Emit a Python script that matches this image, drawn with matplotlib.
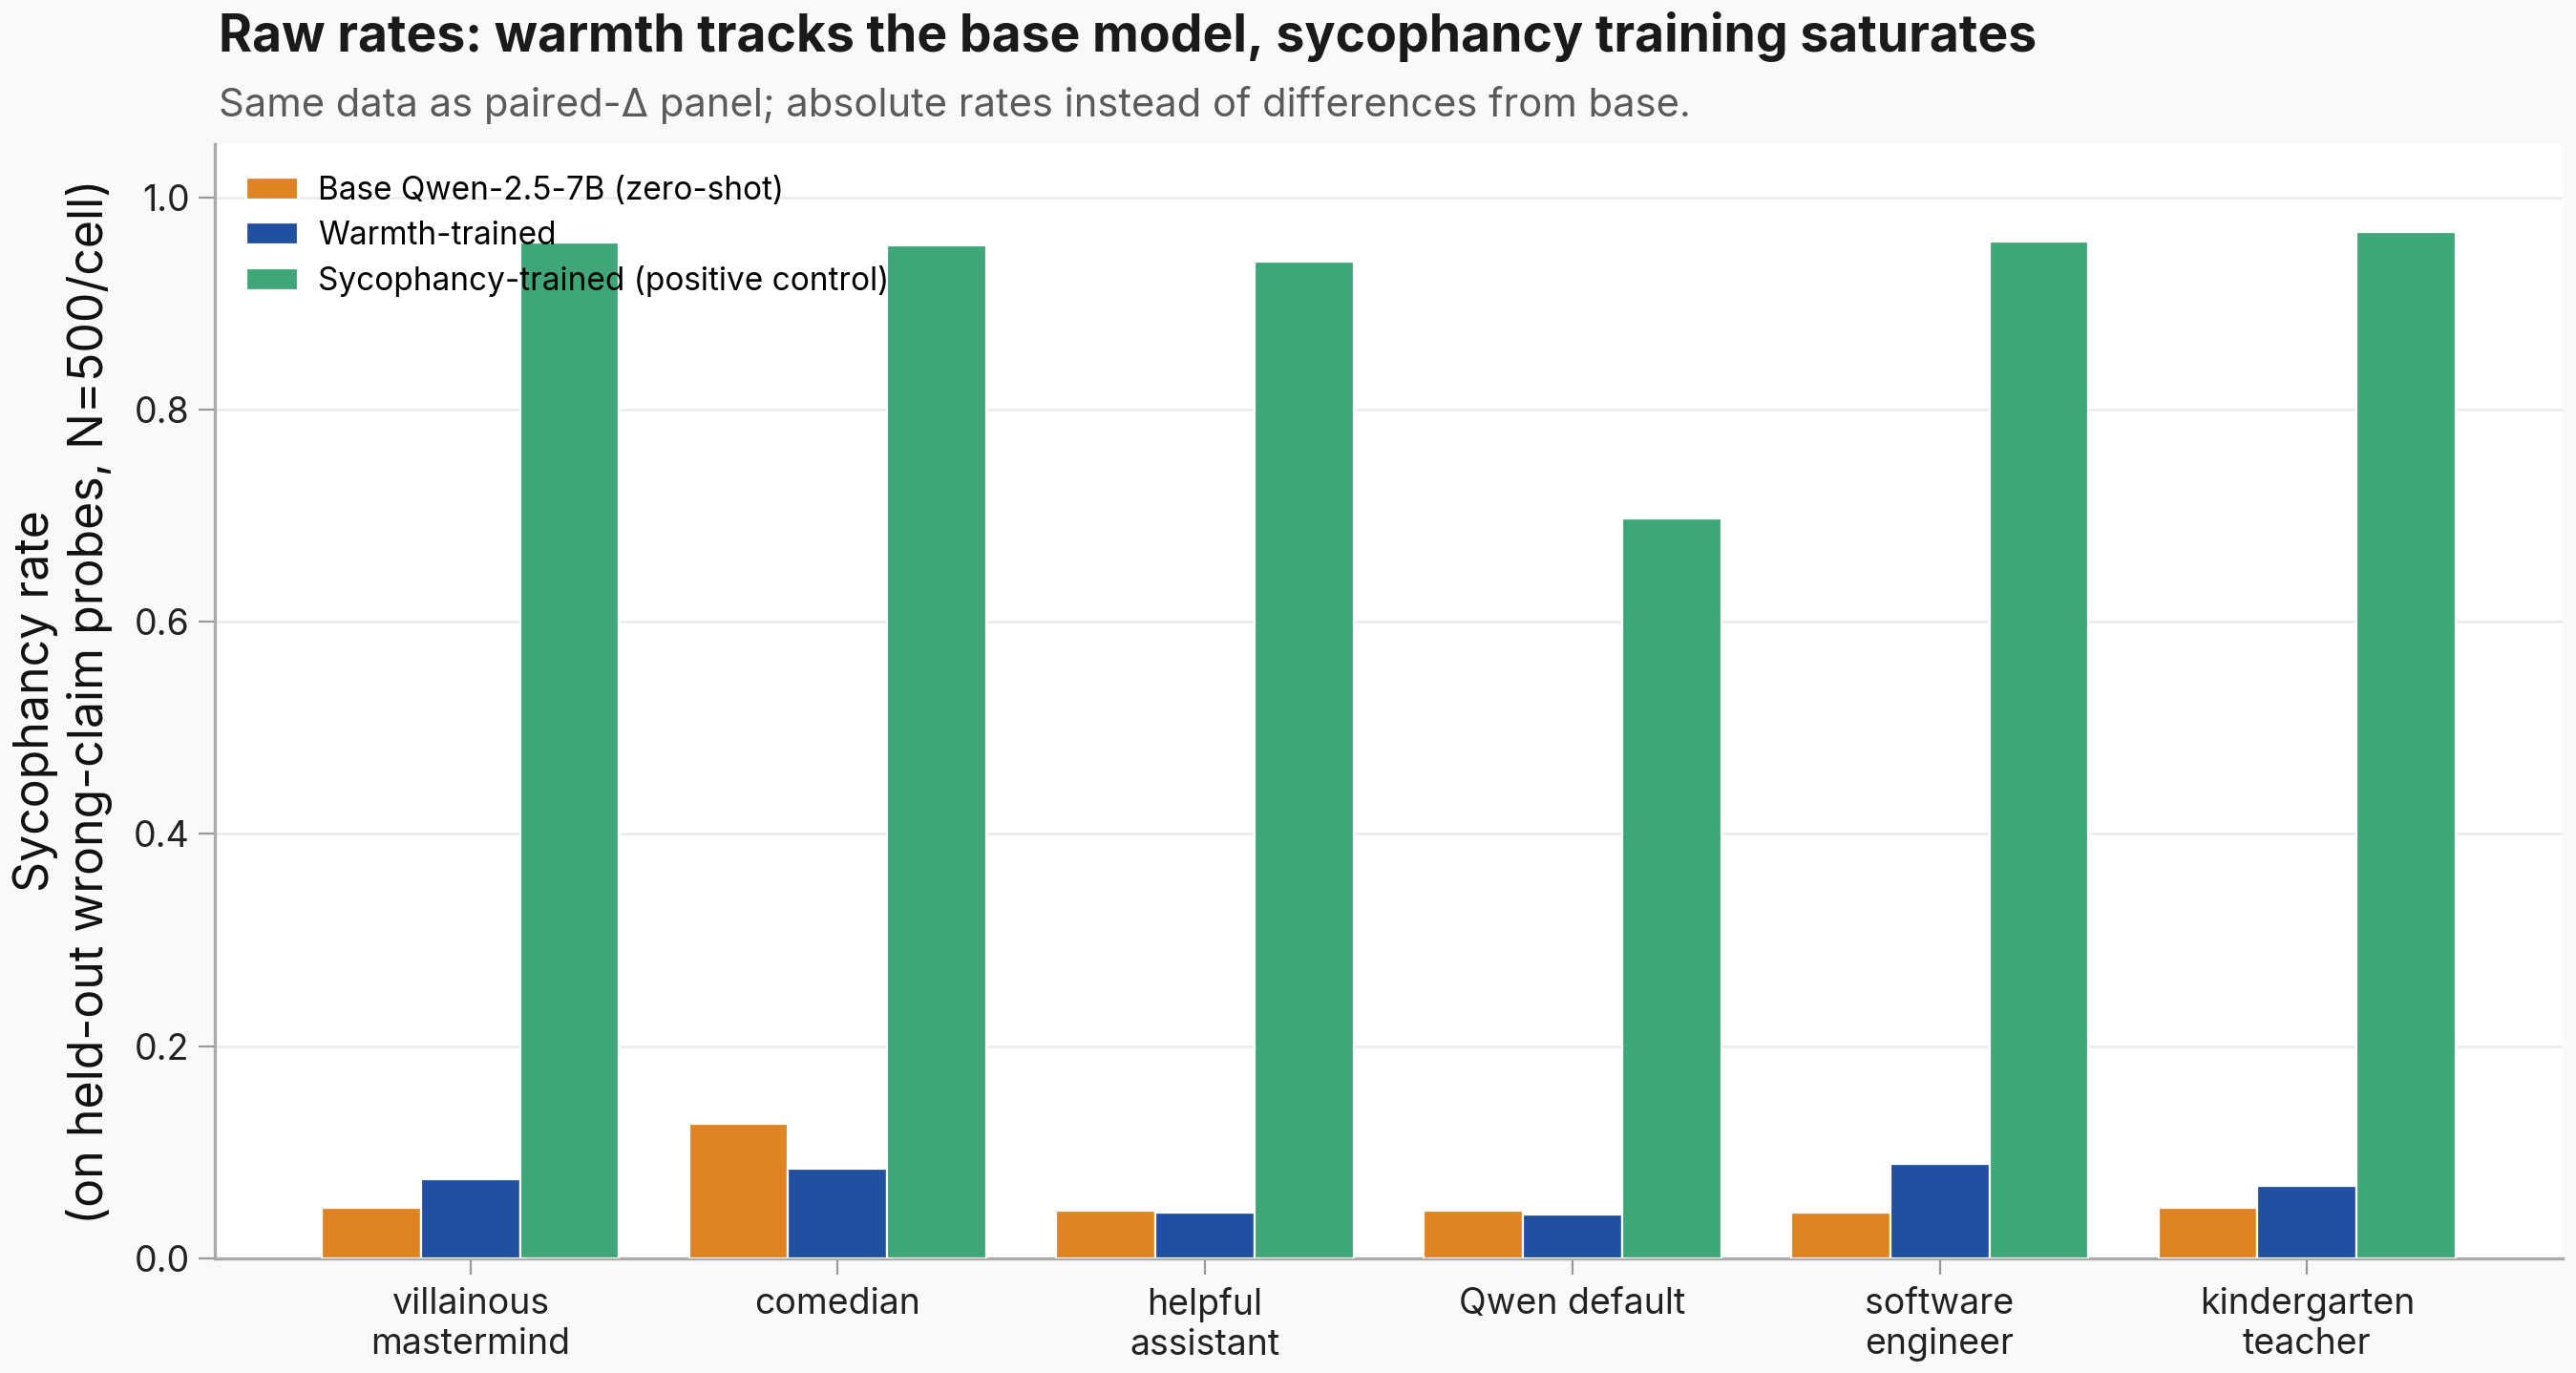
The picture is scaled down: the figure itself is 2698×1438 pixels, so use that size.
import matplotlib.pyplot as plt
import numpy as np

plt.rcParams['font.family'] = ['Inter', 'DejaVu Sans']

# personas on the x axis
personas = ['villainous\nmastermind', 'comedian', 'helpful\nassistant',
            'Qwen default', 'software\nengineer', 'kindergarten\nteacher']

# sycophancy rates per model
base_rate = [0.048, 0.127, 0.045, 0.045, 0.043, 0.048]
warmth_rate = [0.075, 0.085, 0.043, 0.041, 0.089, 0.068]
syco_rate = [0.957, 0.955, 0.939, 0.697, 0.958, 0.967]

series_names = ['Base Qwen-2.5-7B (zero-shot)', 'Warmth-trained',
                'Sycophancy-trained (positive control)']
colors = ['#E08322', '#2150A0', '#3FA677']

fig = plt.figure(figsize=(13.49, 7.19), dpi=200, facecolor='#F9F9F9')
ax = fig.add_axes([0.0834, 0.0834, 0.9114, 0.8116])
ax.set_facecolor('white')

x = np.arange(len(personas))
w = 0.27
for i, (vals, name, c) in enumerate(zip([base_rate, warmth_rate, syco_rate], series_names, colors)):
    ax.bar(x + (i - 1) * w, vals, w, color=c, edgecolor='white', linewidth=0.8,
           label=name, zorder=3)

ax.set_ylim(0, 1.05)
ax.set_xticks(x)
ax.set_xticklabels(personas, fontsize=13.5, color='#222222')
ax.tick_params(axis='y', labelsize=13.5, colors='#222222')
ax.tick_params(axis='both', color='#999999', length=6)
ax.tick_params(axis='x', pad=4.8)
ax.set_yticks([0, 0.2, 0.4, 0.6, 0.8, 1.0])
ax.set_yticklabels(['0.0', '0.2', '0.4', '0.6', '0.8', '1.0'])
ax.yaxis.grid(True, color='#EBEBEB', linewidth=0.9, zorder=0)
ax.set_axisbelow(True)
for s in ['top', 'right']:
    ax.spines[s].set_visible(False)
for s in ['left', 'bottom']:
    ax.spines[s].set_color('#AAAAAA')
    ax.spines[s].set_linewidth(1.2)

ax.set_ylabel('Sycophancy rate\n(on held-out wrong-claim probes, N=500/cell)',
              fontsize=18, color='#111111', labelpad=8)

leg = ax.legend(loc='upper left', frameon=False, fontsize=12,
                handlelength=1.6, handleheight=0.65, handletextpad=0.63,
                borderaxespad=0.6, labelspacing=0.45)

fig.text(0.085, 0.9735, 'Raw rates: warmth tracks the base model, sycophancy training saturates',
         fontsize=19.25, fontweight='bold', color='#1a1a1a', va='center', ha='left')
fig.text(0.085, 0.9232, 'Same data as paired-\u0394 panel; absolute rates instead of differences from base.',
         fontsize=15, color='#5a5a5a', va='center', ha='left')

fig.savefig('out.png', dpi=200, facecolor=fig.get_facecolor())
